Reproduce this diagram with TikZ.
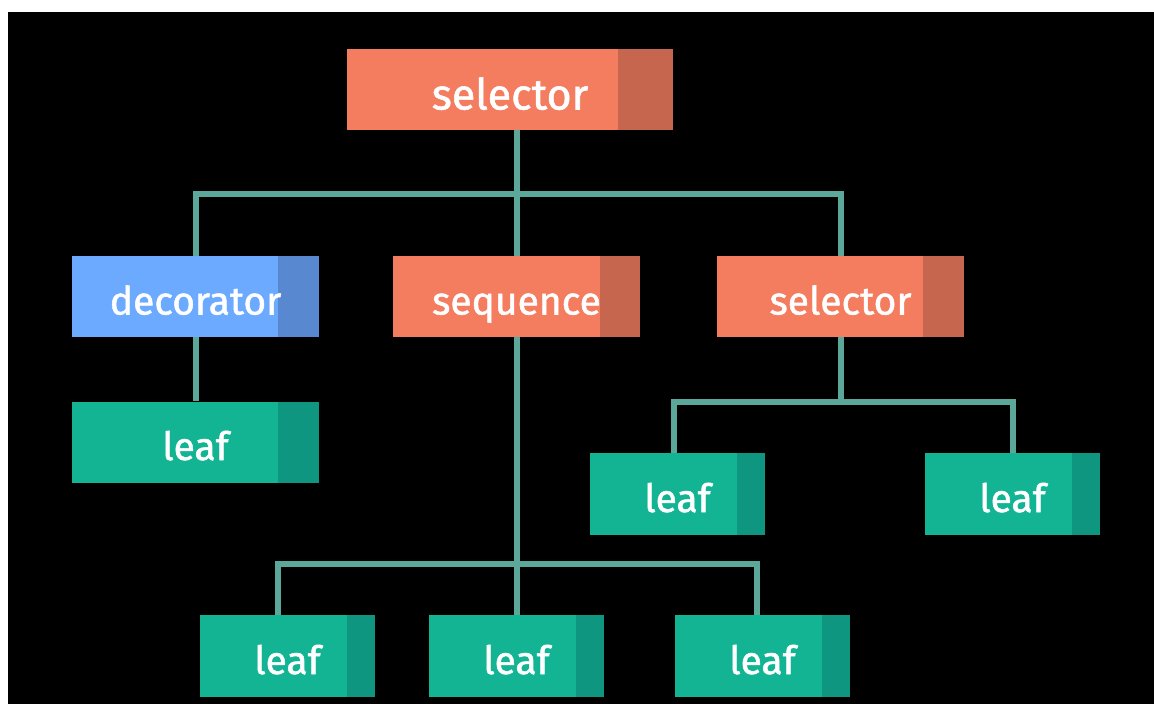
\documentclass[tikz,border=0pt]{standalone}
\usepackage{fontspec}
\setmainfont{Fira Sans}
\newfontfamily\boxfont{Fira Sans}[FakeBold=1.3]
\definecolor{bgblack}{HTML}{000000}
\definecolor{orangemain}{HTML}{F47C5F}
\definecolor{orangedark}{HTML}{C6664F}
\definecolor{bluemain}{HTML}{6BAAFF}
\definecolor{bluedark}{HTML}{5888D0}
\definecolor{leafmain}{HTML}{13B494}
\definecolor{leafdark}{HTML}{0E9680}
\definecolor{linecol}{HTML}{5BA89B}
\newcommand{\stripw}{41pt}
\newcommand{\stripcol}{orangedark}
\tikzset{
  stripwidth/.store in=\stripw,
  stripcolor/.store in=\stripcol,
  boxbase/.style={inner sep=0pt, text=white, font=\boxfont\fontsize{39}{39}\selectfont,
    text height=36pt, text depth=0pt,
    path picture={\fill[\stripcol] ([xshift=-\stripw]path picture bounding box.north east) rectangle (path picture bounding box.south east);}},
  orangebox/.style={boxbase, fill=orangemain, stripcolor=orangedark},
  bluebox/.style={boxbase, fill=bluemain, stripcolor=bluedark},
  leafbox/.style={boxbase, fill=leafmain, stripcolor=leafdark},
  bigsize/.style={minimum width=247pt, minimum height=81pt, stripwidth=41pt},
  smallsize/.style={minimum width=175pt, minimum height=82pt, stripwidth=28pt},
  conn/.style={draw=linecol, line width=6pt, line join=miter}
}
\begin{document}
\begin{tikzpicture}[x=1pt,y=-1pt]
\useasboundingbox (0,0) rectangle (1154,704);
\fill[white] (0,0) rectangle (1154,704);
\fill[bgblack] (8,12) rectangle (1154,704);

% nodes
\node[orangebox, minimum width=326pt, minimum height=81pt, stripwidth=55pt,
      font=\boxfont\fontsize{43}{43}\selectfont, text height=40pt] (top) at (510,89.5) {selector};
\node[bluebox, bigsize] (dec) at (195.5,296.5) {decorator};
\node[orangebox, bigsize, stripwidth=40pt] (seq) at (516.5,296.5) {sequence};
\node[orangebox, bigsize] (sel) at (840.5,296.5) {selector};
\node[leafbox, bigsize] (leafd) at (195.5,442) {leaf};
\node[leafbox, smallsize] (leafr1) at (677.5,494) {leaf};
\node[leafbox, smallsize] (leafr2) at (1012.5,494) {leaf};
\node[leafbox, smallsize] (leafb1) at (287.5,656) {leaf};
\node[leafbox, smallsize] (leafb2) at (516.5,656) {leaf};
\node[leafbox, smallsize] (leafb3) at (762.5,656) {leaf};

% bar levels
\coordinate (bartop) at (0,193.5);
\coordinate (barsel) at (0,401.5);
\coordinate (barseq) at (0,563.5);

\draw[conn] (seq.north) -- (seq.north |- top.south);
\draw[conn] (dec.north) -- (dec.north |- bartop) -- (sel.north |- bartop) -- (sel.north);
\draw[conn] (dec.south) -- (leafd.north);
\draw[conn] (seq.south) -- (leafb2.north);
\draw[conn] ([xshift=-9.5pt]leafb1.north) -- ([xshift=-9.5pt]leafb1.north |- barseq)
  -- ([xshift=-5.5pt]leafb3.north |- barseq) -- ([xshift=-5.5pt]leafb3.north);
\draw[conn] (sel.south) -- (sel.south |- barsel);
\draw[conn] ([xshift=-3.5pt]leafr1.north) -- ([xshift=-3.5pt]leafr1.north |- barsel)
  -- (leafr2.north |- barsel) -- (leafr2.north);
\end{tikzpicture}
\end{document}
